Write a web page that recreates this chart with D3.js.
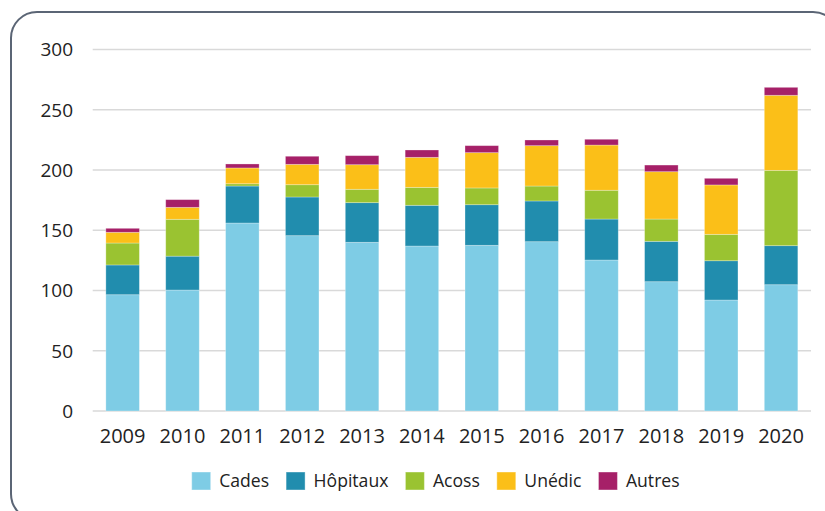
<html>
<head>
    <script src="https://d3js.org/d3.v7.min.js"></script>
    <style>
        body { margin: 0; background: #fff; }
        text { font-family: "Open Sans", sans-serif; fill: #222; }
    </style>
</head>
<body>
    <svg id="chart"></svg>
    <script>
        // data (values in Md€)
        const years = ["2009", "2010", "2011", "2012", "2013", "2014", "2015", "2016", "2017", "2018", "2019", "2020"];
        const cades = [96.5, 100.4, 156, 145.5, 140, 136.9, 137.5, 140.5, 125.3, 107.3, 92.1, 104.8];
        const hopitaux = [24.7, 28.1, 30.7, 32.1, 32.9, 33.8, 33.7, 33.8, 34, 33.5, 32.6, 32.4];
        const acoss = [18.2, 30.6, 1.9, 10.2, 11.1, 14.9, 13.9, 12.4, 23.9, 18.5, 21.9, 62.5];
        const unedic = [8.9, 9.9, 13.1, 16.9, 20.4, 24.9, 29.3, 33.5, 37.5, 39.3, 41, 62.3];
        const autres = [3.3, 6.4, 3.3, 6.7, 7.5, 6.1, 5.8, 4.7, 4.8, 5.5, 5.5, 6.6];
        const seriesNames = ["Cades", "Hôpitaux", "Acoss", "Unédic", "Autres"];
        const colors = ["#7ecce5", "#218dae", "#9ac331", "#fbbf18", "#a62068"];
        const yTicks = [0, 50, 100, 150, 200, 250, 300];

        const width = 825, height = 511;
        const svg = d3.select("#chart").attr("width", width).attr("height", height);

        // rounded frame, runs off the right and bottom edges
        svg.append("rect")
            .attr("x", 11).attr("y", 12)
            .attr("width", 828).attr("height", 508)
            .attr("rx", 26).attr("ry", 26)
            .attr("fill", "none")
            .attr("stroke", "#5b6575")
            .attr("stroke-width", 2);

        const table = years.map((y, i) => ({
            year: y, Cades: cades[i], "Hôpitaux": hopitaux[i], Acoss: acoss[i], "Unédic": unedic[i], Autres: autres[i]
        }));
        const stacked = d3.stack().keys(seriesNames)(table);

        const x = d3.scaleBand().domain(years).range([92.7, 811])
            .paddingInner(0.44).paddingOuter(0.22);
        const y = d3.scaleLinear().domain([0, 300]).range([411, 49.5]);

        // gridlines
        svg.append("g").selectAll("line").data(yTicks)
            .join("line")
            .attr("x1", 92.7).attr("x2", 811)
            .attr("y1", d => y(d)).attr("y2", d => y(d))
            .attr("stroke", "#d9d9d9")
            .attr("stroke-width", 1.5);

        // y labels
        svg.append("g").selectAll("text").data(yTicks)
            .join("text")
            .attr("x", 73).attr("y", d => y(d))
            .attr("dy", "0.36em")
            .attr("text-anchor", "end")
            .style("font-size", "19px")
            .text(d => d);

        // bars
        svg.append("g").selectAll("g").data(stacked)
            .join("g")
            .attr("fill", (d, i) => colors[i])
            .selectAll("rect").data(d => d)
            .join("rect")
            .attr("x", d => x(d.data.year))
            .attr("width", x.bandwidth())
            .attr("y", d => y(d[1]))
            .attr("height", d => y(d[0]) - y(d[1]))
            .attr("stroke", "#fff")
            .attr("stroke-opacity", 0.35)
            .attr("stroke-width", 0.8);

        // x labels
        svg.append("g").selectAll("text").data(years)
            .join("text")
            .attr("x", d => x(d) + x.bandwidth() / 2)
            .attr("y", 443)
            .attr("text-anchor", "middle")
            .style("font-size", "20px")
            .text(d => d);

        // legend
        const legend = svg.append("g").attr("transform", "translate(191.7,472)");
        let lx = 0;
        seriesNames.forEach((name, i) => {
            const item = legend.append("g").attr("transform", "translate(" + lx + ",0)");
            item.append("rect")
                .attr("width", 19).attr("height", 18)
                .attr("fill", colors[i])
                .attr("stroke", "#fff").attr("stroke-opacity", 0.4);
            const t = item.append("text")
                .attr("x", 27.5).attr("y", 14.5)
                .style("font-size", "17.6px")
                .text(name);
            lx += 27.5 + t.node().getComputedTextLength() + 17;
        });
    </script>
</body>
</html>
